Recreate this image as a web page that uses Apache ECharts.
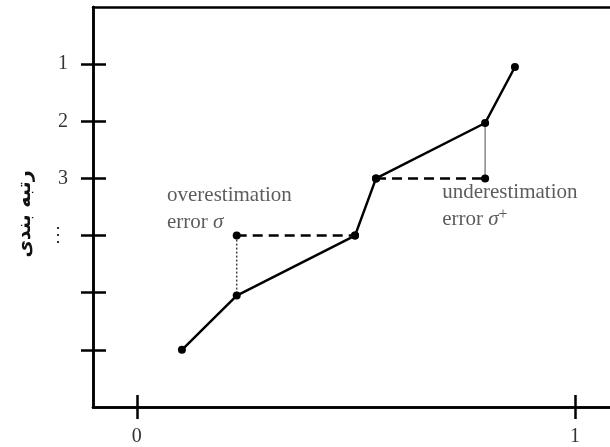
<!DOCTYPE html>
<html>
<head>
<meta charset="utf-8">
<script src="https://cdn.jsdelivr.net/npm/echarts@6/dist/echarts.min.js"></script>
<style>
  html, body { margin: 0; padding: 0; background: #fff; }
  #chart { width: 610px; height: 447px; }
</style>
</head>
<body>
<div id="chart"></div>
<script>
// values
var pathX = [0.103, 0.228, 0.498, 0.546, 0.795, 0.863];
var pathRank = [6, 5.05, 4, 3, 2.03, 1.05];
var overX = [0.228, 0.498];   // dashed line at rank 4
var overRank = 4;
var underX = [0.546, 0.795];  // dashed line at rank 3
var underRank = 3;
var rankTicks = [1, 2, 3, 4, 5, 6];
var rankLabels = ['1', '2', '3', '\u22EE', '', ''];
var xTicks = [0, 1];
var yName = 'رتبه بندی';

var serif = 'Liberation Serif';
var myChart = echarts.init(document.getElementById('chart'));

var pathData = pathX.map(function (x, i) { return [x, pathRank[i]]; });

function axisX(pos, inside, showTick, showLabel) {
  return {
    type: 'value', position: pos, min: -0.1, max: 1.08,
    splitLine: { show: false },
    axisLine: { show: true, onZero: false, lineStyle: { color: '#000', width: 2.5 } },
    axisTick: { show: showTick, inside: inside, length: 12, customValues: xTicks,
      lineStyle: { color: '#000', width: 2.5 } },
    axisLabel: { show: showLabel, customValues: xTicks, margin: 20,
      fontFamily: serif, fontSize: 20, color: '#333' }
  };
}
function axisY(inside, showLabel) {
  return {
    type: 'value', position: 'left', inverse: true, min: 0, max: 7,
    splitLine: { show: false },
    axisLine: { show: true, onZero: false, lineStyle: { color: '#000', width: 2.5 } },
    axisTick: { show: true, inside: inside, length: inside ? 13 : 12, customValues: rankTicks,
      lineStyle: { color: '#000', width: 2.5 } },
    axisLabel: { show: showLabel, customValues: rankTicks, margin: 25,
      fontFamily: serif, fontSize: 20, color: '#333',
      formatter: function (v) { return rankLabels[rankTicks.indexOf(v)]; } },
    name: showLabel ? yName : '',
    nameLocation: 'middle',
    nameGap: 58,
    nameTextStyle: { fontFamily: 'DejaVu Sans', fontWeight: 'bold', fontSize: 19, color: '#111',
      padding: [0, 14, 0, 0] }
  };
}

var noteStyle = {
  n: { fontFamily: serif, fontSize: 21, color: '#333', lineHeight: 27 },
  s: { fontFamily: serif, fontSize: 21, color: '#333', fontStyle: 'italic', lineHeight: 27 },
  p: { fontFamily: serif, fontSize: 16, color: '#333', lineHeight: 27, padding: [0, 0, 10, 0] }
};

var option = {
  animation: false,
  grid: { left: 93, right: 0, top: 7, bottom: 39 },
  xAxis: [
    axisX('bottom', false, true, true),
    axisX('bottom', true, true, false),
    {
      type: 'value', position: 'top', min: -0.1, max: 1.08,
      splitLine: { show: false }, axisTick: { show: false }, axisLabel: { show: false },
      axisLine: { show: true, onZero: false, lineStyle: { color: '#000', width: 2.5 } }
    }
  ],
  yAxis: [axisY(false, true), axisY(true, false)],
  series: [
    {
      type: 'line', data: pathData, symbol: 'circle', symbolSize: 8,
      itemStyle: { color: '#000' }, lineStyle: { color: '#000', width: 2.5 }, z: 5
    },
    {
      type: 'line', data: [[overX[0], overRank], [overX[1], overRank]],
      symbol: 'circle', symbolSize: 8, itemStyle: { color: '#000' },
      lineStyle: { color: '#000', width: 2.5, type: [10, 6] }
    },
    {
      type: 'line', data: [[overX[0], overRank], [overX[0], pathRank[1]]],
      showSymbol: false, lineStyle: { color: '#444', width: 1.5, type: [2, 2] }
    },
    {
      type: 'line', data: [[underX[0], underRank], [underX[1], underRank]],
      symbol: 'circle', symbolSize: 8, itemStyle: { color: '#000' },
      lineStyle: { color: '#000', width: 2.5, type: [10, 6] }
    },
    {
      type: 'line', data: [[underX[1], pathRank[4]], [underX[1], underRank]],
      showSymbol: false, lineStyle: { color: '#888', width: 1.5 }
    },
    {
      type: 'scatter', symbolSize: 0, silent: true,
      data: [
        { value: [0.069, 3.53], label: { formatter: '{n|overestimation}\n{n|error }{s|σ}' } },
        { value: [0.697, 3.49], label: { formatter: '{n|underestimation}\n{n|error }{s|σ}{p|+}' } }
      ],
      label: { show: true, position: 'right', distance: 0, align: 'left', verticalAlign: 'middle', rich: noteStyle }
    }
  ]
};
myChart.setOption(option);
</script>
</body>
</html>
